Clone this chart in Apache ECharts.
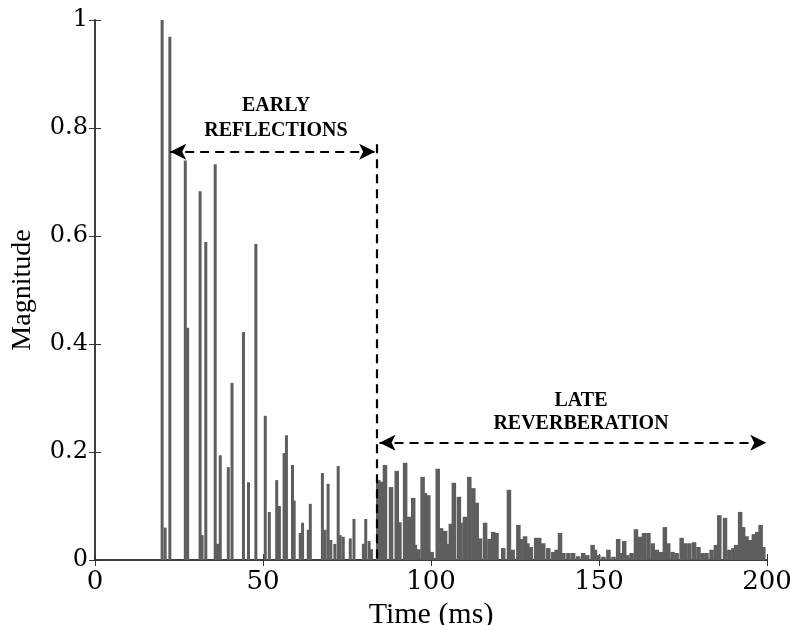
<!DOCTYPE html>
<html>
<head>
<meta charset="utf-8">
<script src="https://cdn.jsdelivr.net/npm/echarts@6/dist/echarts.min.js"></script>
<style>
  html, body { margin: 0; padding: 0; background: #fff; }
  #chart { width: 790px; height: 625px; }
</style>
</head>
<body>
<div id="chart"></div>
<script>
// impulse response, early part (ms, magnitude)
var earlyTimes = [20.2, 21.1, 22.5, 27.1, 27.8, 31.5, 32.1, 33.2, 36.0, 36.7, 37.5, 39.9, 41.0,
    44.4, 45.9, 48.1, 50.9, 52.1, 54.3, 55.1, 56.5, 57.2, 59.0, 59.5, 61.3, 62.0, 63.7, 64.3,
    67.9, 68.7, 69.6, 70.4, 71.6, 72.6, 73.2, 74.1, 76.2, 77.3, 80.1, 80.8, 81.8, 82.5];
var earlyValues = [1.0, 0.06, 0.969, 0.74, 0.43, 0.683, 0.046, 0.589, 0.733, 0.03, 0.194, 0.172, 0.328,
    0.422, 0.144, 0.585, 0.267, 0.089, 0.148, 0.1, 0.198, 0.231, 0.176, 0.11, 0.05, 0.069, 0.056, 0.104,
    0.161, 0.056, 0.141, 0.037, 0.03, 0.174, 0.046, 0.043, 0.04, 0.076, 0.03, 0.076, 0.035, 0.02];

// late reverberation
var lateTimes = [84.3, 85.3, 86.3, 88.1, 89.8, 90.6, 92.3, 93.5, 94.7, 95.2, 96.2, 97.5, 98.2, 99.2,
    100.2, 100.9, 102.0, 103.0, 104.2, 104.7, 105.9, 106.8, 108.3, 108.8, 110.1, 111.4, 112.6, 113.6,
    114.6, 116.1, 117.4, 118.5, 119.5, 121.5, 123.2, 124.3, 126.0, 126.7, 128.0, 128.7, 129.7, 131.3,
    132.2, 133.4, 134.9, 136.4, 137.4, 138.4, 139.4, 140.9, 142.3, 143.8, 145.3, 146.5, 148.1, 148.8,
    149.8, 151.3, 152.8, 154.3, 155.7, 156.4, 157.5, 158.4, 159.7, 161.0, 162.2, 163.4, 164.7, 166.0,
    167.2, 168.4, 169.6, 170.6, 171.9, 173.1, 174.6, 175.6, 176.9, 178.3, 179.6, 180.8, 182.0, 183.5,
    184.8, 185.8, 187.5, 188.8, 190.0, 190.8, 192.0, 192.9, 193.9, 194.9, 196.1, 197.1, 198.1, 198.9];
var lateValues = [0.148, 0.145, 0.176, 0.135, 0.165, 0.07, 0.18, 0.08, 0.115, 0.028, 0.02, 0.154, 0.124, 0.12,
    0.015, 0.004, 0.169, 0.059, 0.054, 0.03, 0.067, 0.143, 0.117, 0.069, 0.08, 0.154, 0.133, 0.106,
    0.04, 0.069, 0.039, 0.052, 0.05, 0.022, 0.13, 0.019, 0.065, 0.039, 0.044, 0.031, 0.024, 0.041,
    0.041, 0.031, 0.022, 0.015, 0.019, 0.05, 0.013, 0.013, 0.013, 0.007, 0.013, 0.009, 0.028, 0.019,
    0.009, 0.006, 0.019, 0.006, 0.039, 0.013, 0.035, 0.009, 0.013, 0.057, 0.043, 0.05, 0.05, 0.031,
    0.019, 0.015, 0.061, 0.031, 0.015, 0.013, 0.041, 0.031, 0.031, 0.033, 0.024, 0.013, 0.013, 0.019,
    0.028, 0.083, 0.078, 0.019, 0.022, 0.028, 0.089, 0.061, 0.044, 0.037, 0.048, 0.052, 0.065, 0.024];

var xTicks = [0, 50, 100, 150, 200];
var yTicks = [0, 0.2, 0.4, 0.6, 0.8, 1];

function pairs(ts, vs) {
    return ts.map(function (t, i) { return [t, vs[i]]; });
}

var chart = echarts.init(document.getElementById('chart'));
var serif = 'DejaVu Serif';
var lineCol = '#333';
var dashed = { color: '#000', width: 2.2, type: [9, 6] };

var option = {
    animation: false,
    grid: { left: 95, right: 23, top: 20, bottom: 65, outerBoundsMode: 'none' },
    xAxis: [{
        type: 'value', min: xTicks[0], max: xTicks[xTicks.length - 1], interval: 50,
        name: 'Time (ms)', nameLocation: 'middle', nameGap: 33,
        nameTextStyle: { fontFamily: 'Liberation Serif', fontSize: 30, color: '#000' },
        axisLine: { show: true, lineStyle: { color: lineCol, width: 1.5 } },
        axisTick: { inside: true, length: 6, lineStyle: { color: lineCol } },
        axisLabel: { fontFamily: serif, fontSize: 26, color: '#000', margin: 9 },
        splitLine: { show: false }
    }, {
        type: 'value', position: 'top', min: 0, max: 200, interval: 50,
        axisLine: { show: true, lineStyle: { color: lineCol, width: 1.5 } },
        axisTick: { inside: true, length: 6, lineStyle: { color: lineCol } },
        axisLabel: { show: false }, splitLine: { show: false }
    }],
    yAxis: [{
        type: 'value', min: yTicks[0], max: yTicks[yTicks.length - 1], interval: 0.2,
        name: 'Magnitude', nameLocation: 'middle', nameGap: 58,
        nameTextStyle: { fontFamily: 'Liberation Serif', fontSize: 28, color: '#000' },
        axisLine: { show: true, lineStyle: { color: lineCol, width: 1.5 } },
        axisTick: { inside: true, length: 6, lineStyle: { color: lineCol } },
        axisLabel: { fontFamily: serif, fontSize: 24, color: '#000', margin: 7,
            formatter: function (v) { return String(Math.round(v * 10) / 10); } },
        splitLine: { show: false }
    }, {
        type: 'value', position: 'right', min: 0, max: 1, interval: 0.2,
        axisLine: { show: true, lineStyle: { color: lineCol, width: 1.5 } },
        axisTick: { inside: true, length: 6, lineStyle: { color: lineCol } },
        axisLabel: { show: false }, splitLine: { show: false }
    }],
    series: [{
        type: 'bar', name: 'early', barWidth: 3, barGap: '-100%',
        itemStyle: { color: '#5e5e5e' },
        data: pairs(earlyTimes, earlyValues),
        markLine: {
            silent: true, symbol: ['arrow', 'arrow'], symbolSize: [12, 16],
            label: { show: false }, lineStyle: dashed, emphasis: { disabled: true },
            data: [
                [{ coord: [22.6, 0.756] }, { coord: [83.6, 0.756] }],
                [{ coord: [84.9, 0.217] }, { coord: [200, 0.217] }],
                [{ coord: [84, 0.77], symbol: 'none' }, { coord: [84, 0], symbol: 'none' }]
            ]
        }
    }, {
        type: 'bar', name: 'late', barWidth: 4.5, barGap: '-100%',
        itemStyle: { color: '#5e5e5e' },
        data: pairs(lateTimes, lateValues)
    }]
};

var annot = { fontFamily: 'Liberation Serif', fontSize: 20, fontWeight: 'bold', fill: '#000',
    align: 'center', verticalAlign: 'middle' };
option.graphic = [
    ['EARLY', 276, 106], ['REFLECTIONS', 276, 131],
    ['LATE', 581, 401], ['REVERBERATION', 581, 424]
].map(function (a) {
    return { type: 'text', x: a[1], y: a[2], silent: true,
        style: Object.assign({ text: a[0] }, annot) };
});

chart.setOption(option);
</script>
</body>
</html>
